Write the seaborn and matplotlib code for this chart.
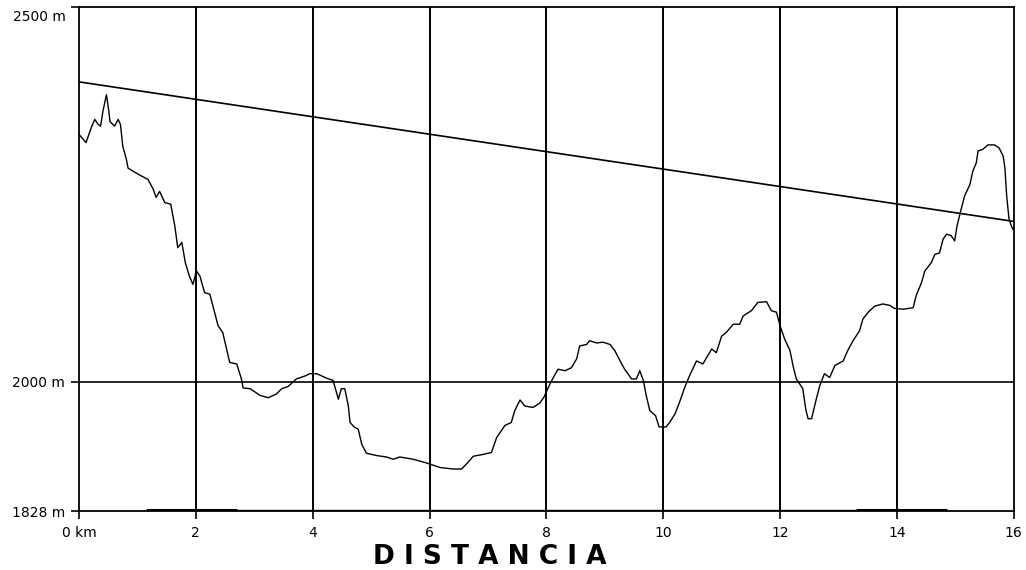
import numpy as np
import pandas as pd
import matplotlib
matplotlib.use("Agg")
import matplotlib.pyplot as plt
import seaborn as sns

# elevation profile (km, m)
dist_km = [0.0, 0.12, 0.21, 0.27, 0.33, 0.37, 0.41, 0.47, 0.51, 0.53, 0.61, 0.67, 0.71, 0.75, 0.81,
           0.84, 1.01, 1.18, 1.27, 1.32, 1.38, 1.47, 1.57, 1.64, 1.69, 1.76, 1.82, 1.89, 1.95, 2.01,
           2.07, 2.15, 2.24, 2.38, 2.46, 2.58, 2.70, 2.78, 2.81, 2.93, 3.10, 3.24, 3.38, 3.47, 3.58,
           3.72, 3.87, 3.95, 4.07, 4.24, 4.35, 4.44, 4.49, 4.55, 4.61, 4.64, 4.71, 4.78, 4.84, 4.92,
           5.09, 5.26, 5.38, 5.49, 5.72, 5.95, 6.18, 6.40, 6.55, 6.66, 6.75, 6.89, 7.06, 7.15, 7.29,
           7.40, 7.46, 7.55, 7.63, 7.77, 7.89, 7.96, 8.06, 8.12, 8.20, 8.32, 8.43, 8.52, 8.57, 8.69,
           8.74, 8.86, 8.97, 9.09, 9.17, 9.29, 9.34, 9.46, 9.54, 9.60, 9.66, 9.71, 9.77, 9.87, 9.93,
           10.05, 10.11, 10.20, 10.28, 10.37, 10.45, 10.57, 10.68, 10.83, 10.91, 11.00, 11.08, 11.20,
           11.31, 11.37, 11.51, 11.62, 11.77, 11.85, 11.94, 12.00, 12.08, 12.17, 12.23, 12.28, 12.39,
           12.44, 12.48, 12.54, 12.62, 12.68, 12.76, 12.85, 12.94, 13.08, 13.16, 13.25, 13.36, 13.42,
           13.51, 13.62, 13.76, 13.88, 13.96, 14.11, 14.28, 14.33, 14.42, 14.48, 14.59, 14.65, 14.73,
           14.79, 14.85, 14.93, 14.99, 15.03, 15.10, 15.16, 15.25, 15.30, 15.36, 15.39, 15.47, 15.56,
           15.67, 15.75, 15.82, 15.85, 15.88, 15.92, 15.96, 15.99]
elev_m = [2330, 2319, 2339, 2350, 2343, 2341, 2361, 2383, 2361, 2347, 2341, 2350, 2343, 2314, 2297,
          2285, 2277, 2270, 2257, 2246, 2254, 2239, 2237, 2208, 2179, 2186, 2159, 2141, 2130, 2148,
          2141, 2119, 2117, 2075, 2066, 2026, 2024, 2004, 1992, 1991, 1982, 1979, 1984, 1991, 1994,
          2004, 2008, 2011, 2011, 2005, 2002, 1977, 1991, 1991, 1968, 1946, 1940, 1937, 1917, 1905,
          1902, 1900, 1897, 1900, 1897, 1892, 1886, 1884, 1884, 1893, 1901, 1903, 1906, 1926, 1942,
          1946, 1962, 1976, 1968, 1966, 1972, 1980, 1997, 2006, 2017, 2015, 2019, 2031, 2048, 2050,
          2055, 2052, 2053, 2050, 2042, 2024, 2017, 2004, 2004, 2015, 2002, 1982, 1962, 1955, 1940,
          1940, 1946, 1957, 1973, 1993, 2008, 2028, 2024, 2044, 2039, 2061, 2066, 2077,
          2077, 2088, 2095, 2106, 2107, 2095, 2093, 2075, 2057, 2042, 2019, 2004, 1991,
          1964, 1951, 1951, 1977, 1995, 2011, 2006, 2022, 2028, 2042, 2055, 2068, 2084,
          2093, 2101, 2104, 2102, 2098, 2097, 2099, 2115, 2132, 2148, 2159, 2170, 2172,
          2190, 2197, 2195, 2188, 2208, 2230, 2248, 2263, 2281, 2292, 2308, 2310, 2316,
          2316, 2312, 2301, 2285, 2248, 2217, 2208, 2203]

# straight reference line
ref_km = [0, 16]
ref_elev = [2400, 2214]

# bottom track band segments
band_start = [1.15, 2.7, 13.3]
band_end = [2.7, 13.3, 14.85]
band_width = [2.2, 1.0, 2.2]

x_ticks = [0, 2, 4, 6, 8, 10, 12, 14, 16]
x_labels = ["0 km", "2", "4", "6", "8", "10", "12", "14", "16"]
y_ticks = [1828, 2000, 2500]
y_labels = ["1828 m", "2000 m", "2500 m"]

sns.set_style("white")
plt.rcParams['font.family'] = ['DejaVu Sans']
plt.rcParams['text.color'] = 'black'
plt.rcParams['xtick.color'] = 'black'
plt.rcParams['ytick.color'] = 'black'

fig = plt.figure(figsize=(10.26, 5.70), dpi=100)
ax = fig.add_axes([0.077, 0.1035, 0.911, 0.8845])

profile = pd.DataFrame({'km': dist_km, 'm': elev_m})
ref = pd.DataFrame({'km': ref_km, 'm': ref_elev})

for xv in x_ticks[1:-1]:
    ax.axvline(xv, color='black', lw=1.4, zorder=1)
ax.axhline(2000, color='black', lw=1.2, zorder=1)

sns.lineplot(data=ref, x='km', y='m', color='black', lw=1.2, ax=ax, sort=False, estimator=None)
sns.lineplot(data=profile, x='km', y='m', color='black', lw=1.0, ax=ax, sort=False, estimator=None)

for s, e, w in zip(band_start, band_end, band_width):
    ax.hlines(1829.5, s, e, color='black', lw=w, zorder=3)

ax.set_xlim(0, 16)
ax.set_ylim(1828, 2500)
ax.set_xticks(x_ticks)
ax.set_xticklabels(x_labels, fontsize=10)
ax.set_yticks(y_ticks)
# top label sits a little below its tick in the original
ax.set_yticklabels(y_labels[:-1] + [""], fontsize=10)
ax.annotate(y_labels[-1], xy=(0, y_ticks[-1]), xytext=(-9.4, -7.2), textcoords='offset points',
            ha='right', va='center', fontsize=10, annotation_clip=False)
ax.tick_params(axis='both', direction='out', length=6, width=1.2, color='black',
               left=True, bottom=True, labelcolor='black')
ax.tick_params(axis='x', pad=5)
ax.tick_params(axis='y', pad=4)
ax.set_xlabel('')
ax.set_ylabel('')
for sp in ax.spines.values():
    sp.set_color('black')
    sp.set_linewidth(1.3)

fig.text(490 / 1026, 1 - 557 / 570, "D I S T A N C I A", fontsize=19, fontweight='bold',
         color='black', ha='center', va='center')

plt.savefig("out.png", dpi=100)
